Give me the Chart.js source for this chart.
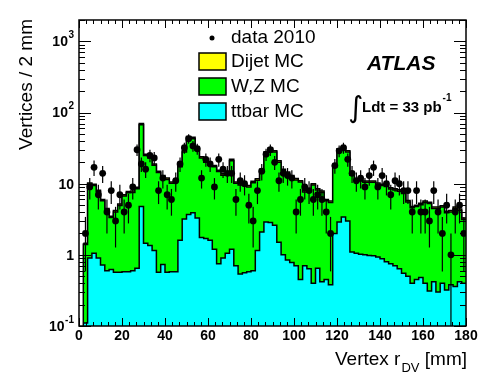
<!DOCTYPE html>
<html>
<head>
<meta charset="utf-8">
<script src="https://cdn.jsdelivr.net/npm/chart.js@4.4.1/dist/chart.umd.min.js"></script>
<style>
  html, body { margin: 0; padding: 0; background: #fff; }
  #wrap { width: 491px; height: 389px; }
</style>
</head>
<body>
<div id="wrap"><canvas id="vtxChart" width="491" height="389"></canvas></div>
<script>
// Histogram contents, one entry per 2 mm bin (0-2, 2-4, ... 178-180 mm)
const binWidth = 2;

const ttbar = [
  0, 0.11, 0.9, 1.05, 0.9, 0.72, 0.6, 0.62, 0.57, 0.57,
  0.58, 0.58, 0.6, 0.65, 4.8, 1.45, 1.35, 1.15, 0.57, 0.73,
  0.57, 0.58, 0.58, 1.6, 3.2, 3.7, 3.9, 3.3, 1.75, 1.7,
  1.6, 1.2, 0.75, 0.9, 1.05, 1.2, 0.7, 0.54, 0.56, 0.58,
  0.6, 1.15, 2.1, 2.9, 2.85, 2.6, 1.5, 1.0, 0.85, 0.78,
  0.7, 0.45, 0.7, 0.64, 0.4, 0.65, 0.42, 0.45, 0.38, 2.0,
  2.9, 3.4, 3.0, 1.1, 1.05, 1.02, 1.0, 0.98, 0.97, 0.93,
  0.88, 0.8, 0.75, 0.7, 0.64, 0.55, 0.5, 0.4, 0.45, 0.48,
  0.4, 0.31, 0.42, 0.3, 0.4, 0.32, 0.38, 0.36, 0.42, 0.4
];

const wz = [
  0, 1.29, 8.9, 8.35, 6.85, 5.03, 3.7, 2.73, 3.43, 4.38,
  6.12, 6.87, 6.95, 7.85, 62.7, 23.55, 21.65, 17.05, 13.83, 11.77,
  10.93, 9.57, 10.32, 15.7, 24.6, 40.3, 39.1, 26.4, 21.25, 18.4,
  16.6, 16.05, 14.1, 12.3, 12.35, 19.9, 9.45, 9.06, 8.84, 8.42,
  9.75, 10.05, 13.2, 23.9, 27.75, 25.2, 18.6, 14.3, 13.15, 11.67,
  10.6, 10.1, 6.95, 7.51, 9.2, 7.5, 7.13, 5.3, 5.07, 15.25,
  26.8, 28.2, 24.8, 12.1, 10.15, 9.88, 9.45, 9.47, 9.48, 8.82,
  8.52, 8.3, 7.65, 7.45, 7.21, 6.75, 5.05, 4.2, 4.35, 4.57,
  5.05, 4.94, 4.08, 4.2, 4.3, 3.58, 3.62, 4.14, 3.78, 2.75
];

const dijet = [
  0, 0.05, 0.4, 0.4, 0.35, 0.25, 0.2, 0.15, 0.2, 0.25,
  0.3, 0.35, 0.35, 0.4, 2.5, 1.0, 1.0, 0.8, 0.6, 0.5,
  0.5, 0.45, 0.5, 0.7, 1.2, 2.0, 2.0, 1.3, 1.0, 0.9,
  0.8, 0.75, 0.65, 0.6, 0.6, 0.9, 0.45, 0.4, 0.4, 0.4,
  0.45, 0.5, 0.7, 1.2, 1.4, 1.2, 0.9, 0.7, 0.6, 0.55,
  0.5, 0.45, 0.35, 0.35, 0.4, 0.35, 0.35, 0.25, 0.25, 0.75,
  1.3, 1.4, 1.2, 0.6, 0.5, 0.5, 0.45, 0.45, 0.45, 0.45,
  0.4, 0.4, 0.4, 0.35, 0.35, 0.3, 0.25, 0.2, 0.2, 0.25,
  0.25, 0.25, 0.2, 0.2, 0.2, 0.2, 0.2, 0.2, 0.2, 0.15
];

const data2010 = [
  0, 2, 9, 17, 7, 14, 4, 8, 3, 7,
  4, 5, 9, 30, 19, 16, 25, 23, 8, 12,
  7, 6, 11, 19, 32, 43, 34, 31, 12, 22,
  19, 9, 22, 16, 14, 14, 6, 11, 10, 5,
  3, 8, 15, 26, 30, 20, 11, 14, 13, 12,
  4, 6, 9, 8, 6, 7, 6, 4, 2, 18,
  29, 32, 22, 14, 11, 12, 9, 13, 17, 9,
  13, 10, 7, 11, 10, 8, 8, 4, 8, 4,
  4, 3, 8, 4, 2, 5, 1, 4, 5, 2
];

const xTicks = [0, 20, 40, 60, 80, 100, 120, 140, 160, 180];
const yTicks = [0.1, 1, 10, 100, 1000];
const yTickLabels = [['10', '-1'], ['1', ''], ['10', ''], ['10', '2'], ['10', '3']];

const FONT = "'Liberation Sans', Arial, sans-serif";
const firstBin = ttbar.findIndex(v => v > 0);

// step-line points at bin edges, last edge repeats the last bin
function histPoints(vals) {
  const pts = [];
  vals.forEach((v, i) => {
    if (i >= firstBin) pts.push({ x: i * binWidth, y: v });
  });
  pts.push({ x: vals.length * binWidth, y: vals[vals.length - 1] });
  return pts;
}

const dataPoints = [];
data2010.forEach((n, i) => {
  if (n > 0) dataPoints.push({ x: i * binWidth + binWidth / 2, y: n });
});

// ROOT-like frame, inner ticks, labels, legend, error bars
const rootStyle = {
  id: 'rootStyle',
  afterDraw(chart) {
    const { ctx, chartArea: a, scales: { x, y } } = chart;
    ctx.save();

    // error bars on data
    ctx.strokeStyle = '#000';
    ctx.lineWidth = 1.2;
    dataPoints.forEach(p => {
      const err = Math.sqrt(p.y);
      const px = x.getPixelForValue(p.x);
      const lo = p.y - err > y.min ? y.getPixelForValue(p.y - err) : a.bottom;
      const hi = Math.min(y.getPixelForValue(p.y + err), a.bottom);
      ctx.beginPath();
      ctx.moveTo(px, lo);
      ctx.lineTo(px, Math.max(hi, a.top));
      ctx.stroke();
    });

    // left edge of the first filled bin
    const b = firstBin;
    const x0 = x.getPixelForValue(b * binWidth);
    ctx.lineWidth = 1.5;
    ctx.beginPath();
    ctx.moveTo(x0, a.bottom);
    ctx.lineTo(x0, y.getPixelForValue(ttbar[b] + wz[b] + dijet[b]));
    ctx.stroke();

    // frame
    ctx.lineWidth = 1.5;
    ctx.strokeRect(a.left, a.top, a.right - a.left, a.bottom - a.top);

    // x ticks (6 subdivisions between labels)
    ctx.lineWidth = 1;
    for (let k = 0; k <= 54; k++) {
      const v = k * 20 / 6;
      const px = Math.round(x.getPixelForValue(v)) + 0.5;
      const len = k % 6 === 0 ? 8 : 4;
      ctx.beginPath();
      ctx.moveTo(px, a.bottom); ctx.lineTo(px, a.bottom - len);
      ctx.moveTo(px, a.top); ctx.lineTo(px, a.top + len);
      ctx.stroke();
    }
    // y ticks (log)
    for (let d = -1; d <= 3; d++) {
      for (let m = 1; m <= 9; m++) {
        const v = m * Math.pow(10, d);
        if (v < y.min - 1e-9 || v > y.max + 1e-9) continue;
        const py = Math.round(y.getPixelForValue(v)) + 0.5;
        const len = m === 1 ? 12 : 6;
        ctx.beginPath();
        ctx.moveTo(a.left, py); ctx.lineTo(a.left + len, py);
        ctx.moveTo(a.right, py); ctx.lineTo(a.right - len, py);
        ctx.stroke();
      }
    }

    ctx.fillStyle = '#000';
    // x tick labels
    ctx.font = 'bold 14px ' + FONT;
    ctx.textAlign = 'center';
    ctx.textBaseline = 'top';
    xTicks.forEach(v => ctx.fillText(String(v), x.getPixelForValue(v), a.bottom + 3));

    // y tick labels with exponents
    const labelRight = a.left - 5;
    yTicks.forEach((v, i) => {
      const [base, exp] = yTickLabels[i];
      const py = y.getPixelForValue(v);
      let right = labelRight;
      ctx.textAlign = 'right';
      if (exp) {
        ctx.font = 'bold 10px ' + FONT;
        ctx.textBaseline = 'middle';
        ctx.fillText(exp, right, py - 6);
        right -= ctx.measureText(exp).width + 0.5;
      }
      ctx.font = 'bold 14px ' + FONT;
      ctx.textBaseline = 'middle';
      ctx.fillText(base, right, py + 1);
    });

    // axis titles
    ctx.font = '19px ' + FONT;
    ctx.save();
    ctx.translate(27, a.top - 1);
    ctx.rotate(-Math.PI / 2);
    ctx.textAlign = 'right';
    ctx.textBaseline = 'middle';
    ctx.fillText('Vertices / 2 mm', 0, 0);
    ctx.restore();

    ctx.textBaseline = 'alphabetic';
    ctx.textAlign = 'left';
    const t1 = 'Vertex r', t2 = 'DV', t3 = ' [mm]';
    ctx.font = '19px ' + FONT;
    const w1 = ctx.measureText(t1).width, w3 = ctx.measureText(t3).width;
    ctx.font = '13px ' + FONT;
    const w2 = ctx.measureText(t2).width;
    let tx = a.right - (w1 + w2 + w3);
    ctx.font = '19px ' + FONT;
    ctx.fillText(t1, tx, 365);
    ctx.font = '13px ' + FONT;
    ctx.fillText(t2, tx + w1 + 1, 372);
    ctx.font = '19px ' + FONT;
    ctx.fillText(t3, tx + w1 + w2 + 1, 365);

    // legend
    ctx.textBaseline = 'middle';
    ctx.font = '19px ' + FONT;
    ctx.beginPath();
    ctx.arc(212, 38, 2.5, 0, Math.PI * 2);
    ctx.fill();
    ctx.fillText('data 2010', 231, 38);
    const entries = [['Dijet MC', '#ffff00', 53], ['W,Z MC', '#00ff00', 78], ['ttbar MC', '#00ffff', 103]];
    entries.forEach(([label, col, top]) => {
      ctx.fillStyle = col;
      ctx.fillRect(199, top, 27, 17);
      ctx.strokeStyle = '#000';
      ctx.lineWidth = 1.5;
      ctx.strokeRect(199, top, 27, 17);
      ctx.fillStyle = '#000';
      ctx.fillText(label, 231, top + 9);
    });

    // ATLAS label and luminosity
    ctx.font = 'italic bold 21px ' + FONT;
    ctx.textAlign = 'left';
    ctx.textBaseline = 'alphabetic';
    ctx.fillText('ATLAS', 367, 70);
    ctx.font = "29px 'DejaVu Sans'";
    ctx.fillText('\u222B', 348, 117);
    ctx.font = 'bold 15px ' + FONT;
    ctx.fillText('Ldt = 33 pb', 362, 112);
    const wl = ctx.measureText('Ldt = 33 pb').width;
    ctx.font = 'bold 10px ' + FONT;
    ctx.fillText('-1', 362 + wl + 1, 101);

    ctx.restore();
  }
};

const stepLine = {
  type: 'line',
  stepped: true,
  pointRadius: 0,
  borderColor: '#000',
  borderWidth: 1.5,
  tension: 0
};

new Chart(document.getElementById('vtxChart'), {
  type: 'line',
  data: {
    datasets: [
      {
        label: 'data 2010',
        data: dataPoints,
        stack: 'data',
        showLine: false,
        pointRadius: 3.4,
        pointBorderWidth: 0,
        pointBackgroundColor: '#000',
        borderColor: '#000'
      },
      Object.assign({}, stepLine, { label: 'ttbar MC', data: histPoints(ttbar), backgroundColor: '#00ffff', fill: 'origin' }),
      Object.assign({}, stepLine, { label: 'W,Z MC', data: histPoints(wz), backgroundColor: '#00ff00', fill: '-1' }),
      Object.assign({}, stepLine, { label: 'Dijet MC', data: histPoints(dijet), backgroundColor: '#ffff00', fill: '-1' })
    ]
  },
  options: {
    responsive: false,
    animation: false,
    devicePixelRatio: 1,
    layout: { padding: { left: 79, right: 25, top: 20, bottom: 63 } },
    scales: {
      x: { type: 'linear', min: 0, max: 180, display: false },
      y: { type: 'logarithmic', min: 0.1, max: 2000, stacked: true, display: false }
    },
    plugins: {
      legend: { display: false },
      tooltip: { enabled: false }
    }
  },
  plugins: [rootStyle]
});
</script>
</body>
</html>
